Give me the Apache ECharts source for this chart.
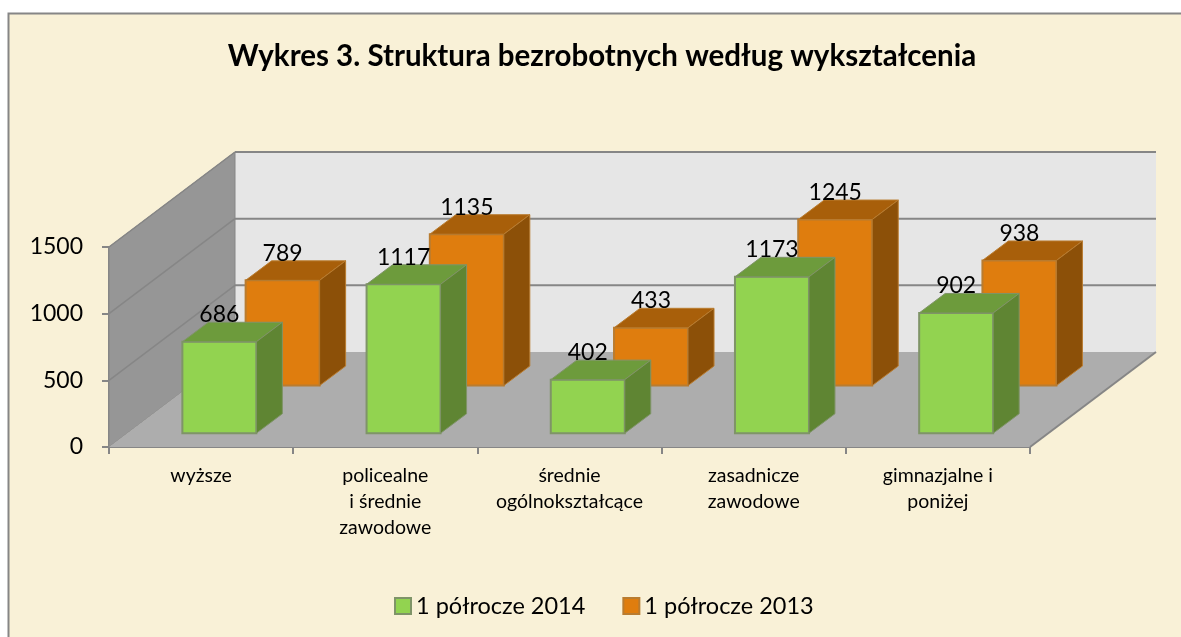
<!DOCTYPE html>
<html>
<head>
<meta charset="utf-8">
<script src="https://cdn.jsdelivr.net/npm/echarts@6/dist/echarts.min.js"></script>
<style>
  html, body { margin: 0; padding: 0; background: #fff; }
  #chart { width: 1181px; height: 637px; }
</style>
</head>
<body>
<div id="chart"></div>
<script>
const titleText = "Wykres 3. Struktura bezrobotnych według wykształcenia";
const categories = [
  "wyższe",
  "policealne\ni średnie\nzawodowe",
  "średnie\nogólnokształcące",
  "zasadnicze\nzawodowe",
  "gimnazjalne i\nponiżej",
];
const values2014 = [686, 1117, 402, 1173, 902];
const values2013 = [789, 1135, 433, 1245, 938];
const yTicks = [0, 500, 1000, 1500];

const fontName = "Lato";
const axisGray = "#868686";

// pseudo 3d: how far the back wall sits from the front edge, in pixels
const wallDx = 126;
const wallDy = -95;
const barDx = 26;
const barDy = -19.5;
const barWidth = 74;

const poly = (points, fill, stroke, lineWidth) => ({
  type: "polygon",
  shape: { points },
  style: { fill, stroke: stroke || null, lineWidth: lineWidth || 0 },
});

const line = (a, b, stroke, lineWidth) => ({
  type: "line",
  shape: { x1: a[0], y1: a[1], x2: b[0], y2: b[1] },
  style: { stroke, lineWidth },
});

const renderWalls = (params, api) => {
  const sys = params.coordSys;
  const x0 = sys.x;
  const x1 = sys.x + sys.width;
  const yBase = api.coord([0, 0])[1];
  const yTop = api.coord([0, 1500])[1];
  const children = [
    poly(
      [[x0 + wallDx, yTop + wallDy], [x1 + wallDx, yTop + wallDy], [x1 + wallDx, yBase + wallDy], [x0 + wallDx, yBase + wallDy]],
      "#e6e6e6"
    ),
    poly(
      [[x0, yBase], [x0, yTop], [x0 + wallDx, yTop + wallDy], [x0 + wallDx, yBase + wallDy]],
      "#969696", axisGray, 1
    ),
    poly(
      [[x0, yBase], [x1, yBase], [x1 + wallDx, yBase + wallDy], [x0 + wallDx, yBase + wallDy]],
      "#adadad"
    ),
    line([x1, yBase], [x1 + wallDx, yBase + wallDy], axisGray, 2),
  ];
  yTicks.forEach((t) => {
    const y = api.coord([0, t])[1];
    if (t > 0) {
      children.push(line([x0 + wallDx, y + wallDy], [x1 + wallDx, y + wallDy], axisGray, 2));
      children.push(line([x0, y], [x0 + wallDx, y + wallDy], axisGray, 1.5));
    }
  });
  return { type: "group", children };
};

// laneDepth: how far back on the floor the bar row stands, 0..1 of wall depth
const makeBarRenderer = (laneDepth, colors) => (params, api) => {
  const i = api.value(0);
  const v = api.value(1);
  const base = api.coord([i, 0]);
  const top = api.coord([i, v]);
  const sx = wallDx * laneDepth;
  const sy = wallDy * laneDepth;
  const l = base[0] + sx - barWidth / 2;
  const r = l + barWidth;
  const b = base[1] + sy;
  const t = top[1] + sy;
  return {
    type: "group",
    children: [
      poly([[l, b], [r, b], [r, t], [l, t]], colors.front, colors.edge, 2),
      poly([[l, t], [r, t], [r + barDx, t + barDy], [l + barDx, t + barDy]], colors.top, colors.edge, 1),
      poly([[r, b], [r + barDx, b + barDy], [r + barDx, t + barDy], [r, t]], colors.side, colors.edge, 1),
      {
        type: "text",
        style: {
          text: String(v),
          x: (l + r) / 2,
          y: t - 27,
          align: "center",
          verticalAlign: "middle",
          fill: "#000",
          font: "23px '" + fontName + "'",
        },
      },
    ],
  };
};

const green = { front: "#92d350", top: "#6d9b3c", side: "#5f8533", edge: "#7f9468" };
const orange = { front: "#df7d0e", top: "#a85f0a", side: "#8c5008", edge: "#b97c30" };

const chart = echarts.init(document.getElementById("chart"), null, { renderer: "canvas" });

chart.setOption({
  animation: false,
  textStyle: { fontFamily: fontName },
  title: {
    text: titleText,
    left: 597,
    top: 36,
    textAlign: "center",
    textStyle: { fontFamily: fontName, fontSize: 29.5, fontWeight: "bold", color: "#000" },
  },
  graphic: [
    {
      type: "rect",
      z: -10,
      shape: { x: 8.5, y: 13.5, width: 1190, height: 640 },
      style: { fill: "#f9f1d7", stroke: axisGray, lineWidth: 2 },
    },
  ],
  legend: {
    left: 394,
    top: 594,
    padding: 0,
    itemWidth: 16,
    itemHeight: 16,
    itemGap: 37,
    icon: "rect",
    data: ["1 półrocze 2014", "1 półrocze 2013"],
    textStyle: { fontFamily: fontName, fontSize: 23.5, color: "#000" },
  },
  grid: { left: 109, right: 151, top: 247, bottom: 190 },
  xAxis: {
    type: "category",
    data: categories,
    axisLine: { lineStyle: { color: axisGray, width: 2 } },
    axisTick: { show: true, length: 7, lineStyle: { color: axisGray, width: 2 } },
    axisLabel: { interval: 0, margin: 16, fontSize: 19.5, lineHeight: 26, color: "#000", fontFamily: fontName },
  },
  yAxis: {
    type: "value",
    min: 0,
    max: 1500,
    interval: 500,
    splitLine: { show: false },
    axisLine: { show: true, lineStyle: { color: axisGray, width: 2 } },
    axisTick: { show: true, length: 7, lineStyle: { color: axisGray, width: 2 } },
    axisLabel: { margin: 26, fontSize: 23, color: "#000", fontFamily: fontName, padding: [8, 0, 0, 0], formatter: (v) => String(v) },
  },
  series: [
    {
      name: "walls",
      type: "custom",
      z: 1,
      silent: true,
      renderItem: renderWalls,
      data: [[0, 0]],
      encode: { x: 0, y: 1 },
    },
    {
      name: "1 półrocze 2013",
      type: "custom",
      z: 3,
      renderItem: makeBarRenderer(0.647, orange),
      itemStyle: { color: orange.front, borderColor: orange.edge, borderWidth: 2 },
      data: values2013.map((v, i) => [i, v]),
      encode: { x: 0, y: 1 },
    },
    {
      name: "1 półrocze 2014",
      type: "custom",
      z: 4,
      renderItem: makeBarRenderer(0.145, green),
      itemStyle: { color: green.front, borderColor: green.edge, borderWidth: 2 },
      data: values2014.map((v, i) => [i, v]),
      encode: { x: 0, y: 1 },
    },
  ],
});
</script>
</body>
</html>
